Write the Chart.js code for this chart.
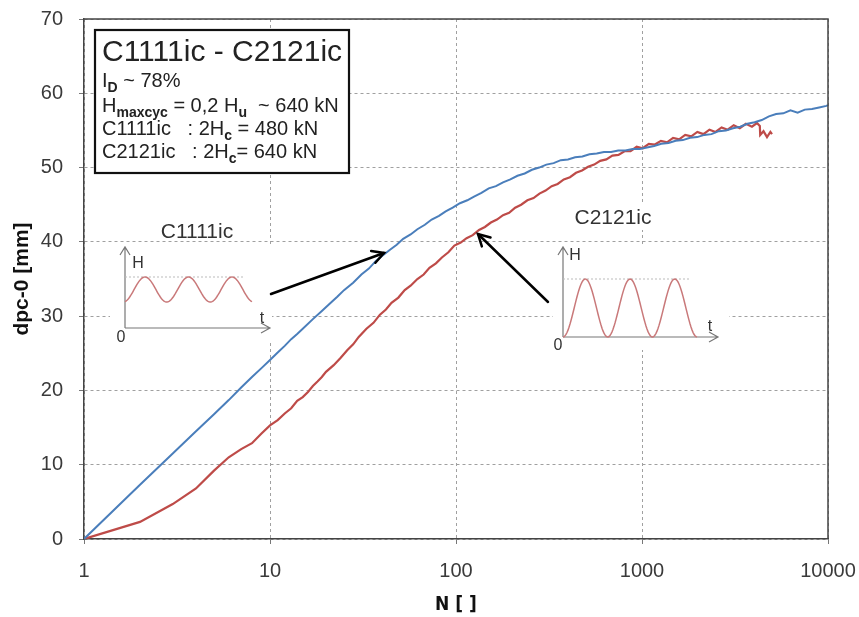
<!DOCTYPE html>
<html>
<head>
<meta charset="utf-8">
<script src="https://cdn.jsdelivr.net/npm/chart.js@4/dist/chart.umd.min.js"></script>
<style>
html,body{margin:0;padding:0;background:#fff;}
#wrap{width:859px;height:617px;position:relative;}
</style>
</head>
<body>
<div id="wrap"><canvas id="c" width="859" height="617"></canvas></div>
<script>
// ---- data ----
const xTicks = [1, 10, 100, 1000, 10000];
const yTicks = [0, 10, 20, 30, 40, 50, 60, 70];

const blueN = [1,2,3,4,5,6,7,8,9,10,11,12,13,14,15,17,19,21,23,25,28,31,34,37,40,44,48,52,57,62,68,74,81,88,96,105,115,125,137,150,164,179,196,214,234,256,280,306,335,366,400,437,478,522,571,624,682,745,814,890,973,1063,1162,1270,1388,1517,1658,1812,1980,2164,2365,2585,2825,3087,3374,3687,4030,4404,4813,5260,5749,6283,6866,7504,8201,8963,9795,10000];
const blueV = [0,7.3,11.5,14.5,16.8,18.7,20.4,21.8,23.0,24.1,25.1,26.0,26.9,27.6,28.3,29.6,30.7,31.7,32.6,33.5,34.5,35.6,36.4,37.4,38.1,38.9,39.6,40.4,41.0,41.7,42.3,43.0,43.5,44.1,44.6,45.2,45.6,46.1,46.6,47.2,47.5,48.0,48.4,48.9,49.2,49.7,50.0,50.4,50.6,51.0,51.1,51.4,51.5,51.8,51.9,52.1,52.1,52.3,52.3,52.5,52.5,52.7,52.9,53.2,53.3,53.6,53.7,54.0,54.1,54.4,54.5,54.9,55.0,55.3,55.5,55.9,56.1,56.4,56.9,57.2,57.3,57.7,57.4,57.8,57.9,58.1,58.3,58.4];

const redN = [1,2,3,4,5,6,7,8,9,10,11,12,13,14,15,16,17,18,19,20,22,24,26,28,30,33,36,39,42,45,49,53,57,62,67,72,78,84,91,98,106,114,123,133,143,154,166,179,193,208,224,242,261,281,303,327,352,380,410,442,476,513,553,596,643,693,747,805,868,936,1009,1088,1173,1264,1363,1469,1584,1707,1840,1984,2139,2305,2485,2679,2888,3113,3356,3618,3900,4150,4300,4320,4500,4700,4900,5000];
const redV = [0,2.3,4.7,6.8,9.2,11.0,12.1,12.9,14.2,15.3,16.0,16.9,17.6,18.6,19.1,19.8,20.6,21.2,21.8,22.5,23.4,24.4,25.4,26.2,27.2,28.3,29.1,30.2,30.9,31.8,32.5,33.5,34.1,35.0,35.6,36.5,37.1,37.9,38.6,39.5,39.9,40.5,40.9,41.6,42.0,42.6,43.0,43.6,43.9,44.6,45.0,45.6,45.9,46.5,46.9,47.5,47.8,48.4,48.7,49.3,49.6,50.1,50.4,50.9,51.1,51.6,51.7,52.2,52.2,52.8,52.6,53.2,53.1,53.6,53.4,54.0,53.8,54.4,54.2,54.8,54.5,55.1,54.8,55.4,55.1,55.7,55.3,55.9,55.5,56.0,55.6,54.4,54.9,54.1,54.8,54.5];

const seriesNames = ['C1111ic', 'C2121ic'];
const xTitle = 'N [ ]';
const yTitle = 'dpc-0 [mm]';

const toXY = (ns, vs) => ns.map((n, i) => ({x: n, y: vs[i]}));

// ---- annotation plugin (text box, insets, arrows) ----
const FONT = "'Liberation Sans', Arial, sans-serif";
function arrowLine(ctx, x1, y1, x2, y2, w, head) {
  ctx.save();
  ctx.strokeStyle = '#000'; ctx.lineWidth = w; ctx.lineCap = 'round';
  ctx.beginPath(); ctx.moveTo(x1, y1); ctx.lineTo(x2, y2); ctx.stroke();
  const a = Math.atan2(y2 - y1, x2 - x1);
  ctx.beginPath();
  ctx.moveTo(x2 - head * Math.cos(a - 0.5), y2 - head * Math.sin(a - 0.5));
  ctx.lineTo(x2, y2);
  ctx.lineTo(x2 - head * Math.cos(a + 0.5), y2 - head * Math.sin(a + 0.5));
  ctx.stroke();
  ctx.restore();
}
function thinArrowAxes(ctx, ox, oy, topY, rightX) {
  ctx.save();
  ctx.strokeStyle = '#777'; ctx.lineWidth = 1.2;
  ctx.beginPath();
  ctx.moveTo(ox, oy); ctx.lineTo(ox, topY);
  ctx.moveTo(ox - 5, topY + 8); ctx.lineTo(ox, topY); ctx.lineTo(ox + 5, topY + 8);
  ctx.moveTo(ox, oy); ctx.lineTo(rightX, oy);
  ctx.moveTo(rightX - 9, oy - 5); ctx.lineTo(rightX, oy); ctx.lineTo(rightX - 9, oy + 5);
  ctx.stroke();
  ctx.restore();
}
function subText(ctx, parts, x, y) {
  let cx = x;
  parts.forEach(([t, sub]) => {
    ctx.font = sub ? `bold 14px ${FONT}` : `20px ${FONT}`;
    ctx.fillText(t, cx, sub ? y + 5 : y);
    cx += ctx.measureText(t).width;
  });
}
const annot = {
  id: 'annot',
  beforeDatasetsDraw(chart) {
    const ctx = chart.ctx;
    ctx.save();
    ctx.fillStyle = '#fff';
    ctx.fillRect(95, 30, 254, 143);
    ctx.fillRect(110, 244, 162, 98);
    ctx.fillRect(553, 244, 176, 106);
    ctx.fillRect(150, 217, 95, 23);
    ctx.fillRect(568, 203, 92, 27);
    ctx.restore();
  },
  afterDraw(chart) {
    const ctx = chart.ctx;
    const ca = chart.chartArea;
    ctx.save();
    ctx.strokeStyle = '#444'; ctx.lineWidth = 1.5;
    ctx.beginPath();
    ctx.moveTo(ca.left, ca.top); ctx.lineTo(ca.right, ca.top); ctx.lineTo(ca.right, ca.bottom);
    ctx.stroke();

    // info box
    ctx.strokeStyle = '#111'; ctx.lineWidth = 2.2;
    ctx.strokeRect(95, 30, 254, 143);
    ctx.fillStyle = '#222';
    ctx.textBaseline = 'alphabetic'; ctx.textAlign = 'left';
    ctx.font = `30px ${FONT}`;
    ctx.fillText('C1111ic - C2121ic', 102, 61);
    subText(ctx, [['I', false], ['D', true], [' ~ 78%', false]], 102, 87);
    subText(ctx, [['H', false], ['maxcyc', true], [' = 0,2 H', false], ['u', true], ['  ~ 640 kN', false]], 102, 112);
    subText(ctx, [['C1111ic   : 2H', false], ['c', true], [' = 480 kN', false]], 102, 135);
    subText(ctx, [['C2121ic   : 2H', false], ['c', true], ['= 640 kN', false]], 102, 158);

    // inset 1
    ctx.fillStyle = '#333';
    ctx.font = `21px ${FONT}`; ctx.textAlign = 'center';
    ctx.fillText('C1111ic', 197, 238);
    thinArrowAxes(ctx, 125, 328, 247, 270);
    ctx.font = `16px ${FONT}`;
    ctx.fillText('H', 138, 268);
    ctx.fillText('t', 262, 323);
    ctx.fillText('0', 121, 342);
    ctx.save();
    ctx.strokeStyle = '#bbb'; ctx.lineWidth = 1; ctx.setLineDash([2, 2]);
    ctx.beginPath(); ctx.moveTo(125, 277); ctx.lineTo(245, 277); ctx.stroke();
    ctx.restore();
    ctx.save();
    ctx.strokeStyle = '#c9797a'; ctx.lineWidth = 1.5;
    ctx.beginPath();
    for (let px = 125; px <= 252; px += 1) {
      const ph = (px - 145) / 43.5 * 2 * Math.PI;
      const yy = 289.5 - 12.5 * Math.cos(ph);
      if (px === 125) ctx.moveTo(px, yy); else ctx.lineTo(px, yy);
    }
    ctx.stroke();
    ctx.restore();

    // inset 2
    ctx.fillStyle = '#333';
    ctx.font = `21px ${FONT}`; ctx.textAlign = 'center';
    ctx.fillText('C2121ic', 613, 224);
    thinArrowAxes(ctx, 563, 337, 247, 718);
    ctx.font = `16px ${FONT}`;
    ctx.fillText('H', 575, 260);
    ctx.fillText('t', 710, 331);
    ctx.fillText('0', 558, 350);
    ctx.save();
    ctx.strokeStyle = '#bbb'; ctx.lineWidth = 1; ctx.setLineDash([2, 2]);
    ctx.beginPath(); ctx.moveTo(563, 279); ctx.lineTo(690, 279); ctx.stroke();
    ctx.restore();
    ctx.save();
    ctx.strokeStyle = '#c9797a'; ctx.lineWidth = 1.5;
    ctx.beginPath();
    for (let px = 563; px <= 697; px += 1) {
      const ph = (px - 563) / 44.7 * 2 * Math.PI;
      const yy = 337 - 58 * (1 - Math.cos(ph)) / 2;
      if (px === 563) ctx.moveTo(px, yy); else ctx.lineTo(px, yy);
    }
    ctx.stroke();
    ctx.restore();

    // arrows
    arrowLine(ctx, 271, 294, 384, 253, 2.5, 13);
    arrowLine(ctx, 548, 302, 478, 234, 2.5, 13);
    ctx.restore();
  }
};

new Chart(document.getElementById('c'), {
  type: 'line',
  data: {
    datasets: [
      {label: seriesNames[0], data: toXY(blueN, blueV), borderColor: '#4a7ebb', borderWidth: 2, pointRadius: 0, tension: 0, fill: false},
      {label: seriesNames[1], data: toXY(redN, redV), borderColor: '#be4b48', borderWidth: 2.2, pointRadius: 0, tension: 0, fill: false}
    ]
  },
  options: {
    responsive: false,
    animation: false,
    events: [],
    layout: {padding: {left: 0, right: 31, top: 19, bottom: 0}},
    plugins: {legend: {display: false}, tooltip: {enabled: false}},
    scales: {
      x: {
        type: 'logarithmic', min: 1, max: 10000,
        afterBuildTicks: s => { s.ticks = xTicks.map(v => ({value: v})); },
        afterFit: s => { s.height = 78; s.paddingLeft = 0; s.paddingRight = 0; },
        ticks: {callback: v => String(v), color: '#3a3a3a', font: {family: FONT, size: 20}, padding: 15, maxRotation: 0, autoSkip: false},
        grid: {color: '#a0a0a0', lineWidth: 1, tickLength: 5, tickColor: '#777', tickBorderDash: [], drawTicks: true},
        border: {display: true, color: '#444', width: 1.5, dash: [3, 3]},
        title: {display: true, text: xTitle, color: '#111', font: {family: "'DejaVu Sans Condensed', 'Liberation Sans Narrow', sans-serif", size: 19, weight: 'bold'}, padding: {top: 0, bottom: 1}}
      },
      y: {
        min: 0, max: 70,
        afterBuildTicks: s => { s.ticks = yTicks.map(v => ({value: v})); },
        afterFit: s => { s.width = 84; s.paddingTop = 0; s.paddingBottom = 0; },
        ticks: {color: '#3a3a3a', font: {family: FONT, size: 20}, padding: 16},
        grid: {color: '#a0a0a0', lineWidth: 1, tickLength: 5, tickColor: '#777', tickBorderDash: [], drawTicks: true},
        border: {display: true, color: '#444', width: 1.5, dash: [3, 3]},
        title: {display: true, text: yTitle, color: '#111', font: {family: FONT, size: 21, weight: 'bold'}, padding: {top: 10, bottom: 0}}
      }
    }
  },
  plugins: [annot]
});
</script>
</body>
</html>
